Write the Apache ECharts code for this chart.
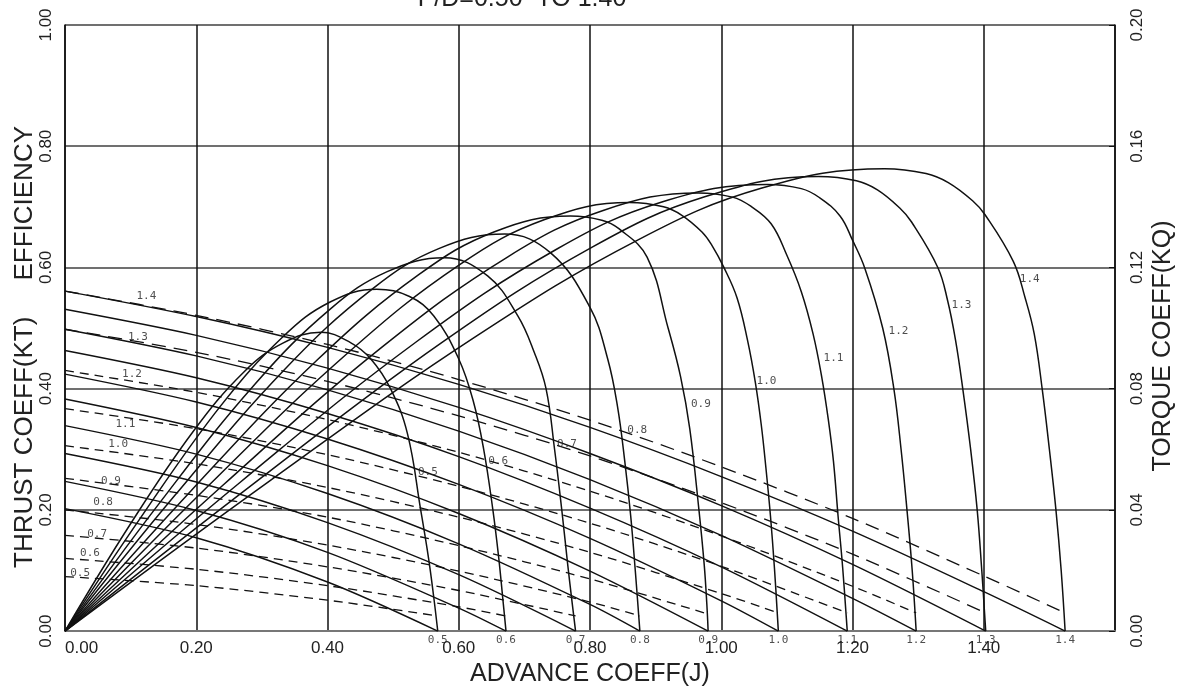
<!DOCTYPE html>
<html>
<head>
<meta charset="utf-8">
<script src="https://cdn.jsdelivr.net/npm/echarts@6/dist/echarts.min.js"></script>
<style>
html, body { margin: 0; padding: 0; background: #fff; }
#chart { width: 1186px; height: 692px; }
</style>
</head>
<body>
<div id="chart"></div>
<script>
// pitch ratios, one KT / KQ / efficiency curve each
var pitchRatios = ['0.5', '0.6', '0.7', '0.8', '0.9', '1.0', '1.1', '1.2', '1.3', '1.4'];

// thrust coeff KT vs advance coeff J  [J, KT]
var kt05 = [[0, 0.202], [0.2, 0.154], [0.4, 0.081], [0.568, 0]];
var kt06 = [[0, 0.247], [0.2, 0.199], [0.4, 0.130], [0.6, 0.038], [0.672, 0]];
var kt07 = [[0, 0.293], [0.2, 0.246], [0.4, 0.179], [0.6, 0.093], [0.778, 0]];
var kt08 = [[0, 0.339], [0.2, 0.292], [0.4, 0.227], [0.6, 0.144], [0.8, 0.044], [0.876, 0]];
var kt09 = [[0, 0.383], [0.2, 0.336], [0.4, 0.273], [0.6, 0.194], [0.8, 0.099], [0.98, 0]];
var kt10 = [[0, 0.424], [0.2, 0.378], [0.4, 0.317], [0.6, 0.242], [0.8, 0.153], [1.0, 0.050], [1.087, 0]];
var kt11 = [[0, 0.463], [0.2, 0.418], [0.4, 0.359], [0.6, 0.288], [0.8, 0.203], [1.0, 0.106], [1.192, 0]];
var kt12 = [[0, 0.498], [0.2, 0.454], [0.4, 0.398], [0.6, 0.330], [0.8, 0.250], [1.0, 0.158], [1.2, 0.054], [1.297, 0]];
var kt13 = [[0, 0.531], [0.2, 0.488], [0.4, 0.434], [0.6, 0.369], [0.8, 0.293], [1.0, 0.207], [1.2, 0.110], [1.403, 0]];
var kt14 = [[0, 0.561], [0.2, 0.519], [0.4, 0.468], [0.6, 0.407], [0.8, 0.336], [1.0, 0.255], [1.2, 0.165], [1.4, 0.065], [1.524, 0]];

// torque coeff KQ vs J (right axis)  [J, KQ]
var kq05 = [[0, 0.018], [0.2, 0.015], [0.4, 0.0102], [0.568, 0.005]];
var kq06 = [[0, 0.024], [0.2, 0.0204], [0.4, 0.015], [0.6, 0.008], [0.672, 0.005]];
var kq07 = [[0, 0.0316], [0.2, 0.0274], [0.4, 0.0212], [0.6, 0.0134], [0.778, 0.005]];
var kq08 = [[0, 0.040], [0.2, 0.0352], [0.4, 0.0284], [0.6, 0.0198], [0.8, 0.0096], [0.876, 0.005]];
var kq09 = [[0, 0.0504], [0.2, 0.0448], [0.4, 0.0376], [0.6, 0.0282], [0.8, 0.0172], [0.98, 0.0056]];
var kq10 = [[0, 0.0612], [0.2, 0.0552], [0.4, 0.0474], [0.6, 0.0376], [0.8, 0.026], [1.0, 0.0124], [1.087, 0.006]];
var kq11 = [[0, 0.0734], [0.2, 0.0668], [0.4, 0.0582], [0.6, 0.0478], [0.8, 0.0356], [1.0, 0.0214], [1.192, 0.006]];
var kq12 = [[0, 0.086], [0.2, 0.0788], [0.4, 0.0698], [0.6, 0.059], [0.8, 0.0462], [1.0, 0.0314], [1.2, 0.0148], [1.297, 0.006]];
var kq13 = [[0, 0.0996], [0.2, 0.092], [0.4, 0.0824], [0.6, 0.071], [0.8, 0.0578], [1.0, 0.0424], [1.2, 0.0254], [1.403, 0.006]];
var kq14 = [[0, 0.1122], [0.2, 0.1042], [0.4, 0.0946], [0.6, 0.083], [0.8, 0.0696], [1.0, 0.0542], [1.2, 0.0372], [1.4, 0.0182], [1.524, 0.006]];

// open water efficiency vs J  [J, eta]
var eta05 = [[0, 0], [0.0975, 0.173], [0.195, 0.329], [0.273, 0.428], [0.332, 0.475], [0.39, 0.493], [0.435, 0.476], [0.466, 0.449], [0.496, 0.40], [0.522, 0.325], [0.542, 0.20], [0.554, 0.12], [0.562, 0.055], [0.568, 0]];
var eta06 = [[0, 0], [0.119, 0.193], [0.2375, 0.372], [0.3325, 0.486], [0.404, 0.543], [0.475, 0.564], [0.525, 0.552], [0.562, 0.520], [0.60, 0.449], [0.622, 0.38], [0.638, 0.30], [0.652, 0.20], [0.661, 0.12], [0.667, 0.055], [0.672, 0]];
var eta07 = [[0, 0], [0.1445, 0.212], [0.289, 0.407], [0.405, 0.532], [0.491, 0.593], [0.578, 0.616], [0.644, 0.586], [0.690, 0.520], [0.715, 0.46], [0.733, 0.40], [0.746, 0.30], [0.757, 0.20], [0.766, 0.11], [0.773, 0.045], [0.778, 0]];
var eta08 = [[0, 0], [0.1675, 0.224], [0.335, 0.432], [0.469, 0.565], [0.5695, 0.631], [0.67, 0.655], [0.74, 0.624], [0.80, 0.534], [0.827, 0.449], [0.842, 0.37], [0.853, 0.28], [0.862, 0.19], [0.869, 0.10], [0.876, 0]];
var eta09 = [[0, 0], [0.1925, 0.232], [0.385, 0.448], [0.539, 0.588], [0.6545, 0.659], [0.77, 0.685], [0.818, 0.678], [0.844, 0.664], [0.887, 0.617], [0.919, 0.50], [0.938, 0.42], [0.952, 0.334], [0.966, 0.20], [0.974, 0.11], [0.978, 0.045], [0.98, 0]];
var eta10 = [[0, 0], [0.215, 0.236], [0.43, 0.458], [0.602, 0.605], [0.731, 0.679], [0.86, 0.707], [0.912, 0.70], [0.94, 0.686], [0.971, 0.658], [0.986, 0.636], [1.004, 0.60], [1.024, 0.55], [1.04, 0.48], [1.052, 0.41], [1.061, 0.34], [1.068, 0.27], [1.075, 0.19], [1.081, 0.105], [1.087, 0]];
var eta11 = [[0, 0], [0.241, 0.241], [0.4825, 0.468], [0.6755, 0.618], [0.82, 0.694], [0.965, 0.723], [1.017, 0.716], [1.045, 0.701], [1.076, 0.672], [1.10, 0.62], [1.122, 0.56], [1.140, 0.49], [1.153, 0.42], [1.163, 0.35], [1.171, 0.28], [1.178, 0.19], [1.185, 0.105], [1.192, 0]];
var eta12 = [[0, 0], [0.2675, 0.246], [0.535, 0.477], [0.749, 0.630], [0.9095, 0.708], [1.07, 0.737], [1.122, 0.730], [1.15, 0.715], [1.181, 0.685], [1.20, 0.645], [1.219, 0.598], [1.246, 0.50], [1.263, 0.40], [1.274, 0.30], [1.283, 0.20], [1.291, 0.10], [1.297, 0]];
var eta13 = [[0, 0], [0.287, 0.243], [0.574, 0.476], [0.804, 0.634], [0.976, 0.717], [1.148, 0.750], [1.206, 0.743], [1.238, 0.728], [1.272, 0.698], [1.290, 0.675], [1.330, 0.60], [1.345, 0.545], [1.357, 0.48], [1.368, 0.40], [1.38, 0.30], [1.39, 0.20], [1.397, 0.10], [1.403, 0]];
var eta14 = [[0, 0], [0.312, 0.248], [0.6245, 0.485], [0.874, 0.646], [1.062, 0.731], [1.249, 0.763], [1.312, 0.755], [1.346, 0.740], [1.383, 0.710], [1.402, 0.687], [1.445, 0.610], [1.463, 0.55], [1.477, 0.49], [1.489, 0.40], [1.500, 0.30], [1.510, 0.20], [1.518, 0.10], [1.524, 0]];

// where the P/D numbers are written  [J, left axis value]
var etaLabelAt = [[0.553, 0.263], [0.660, 0.281], [0.765, 0.308], [0.872, 0.331], [0.969, 0.375], [1.069, 0.413], [1.171, 0.451], [1.270, 0.495], [1.366, 0.538], [1.470, 0.581]];
var kqLabelAt = [[0.023, 0.095], [0.038, 0.128], [0.049, 0.160], [0.058, 0.212], [0.070, 0.248], [0.081, 0.308], [0.092, 0.342], [0.102, 0.424], [0.111, 0.485], [0.124, 0.553]];

var ktCurves = [kt05, kt06, kt07, kt08, kt09, kt10, kt11, kt12, kt13, kt14];
var kqCurves = [kq05, kq06, kq07, kq08, kq09, kq10, kq11, kq12, kq13, kq14];
var etaCurves = [eta05, eta06, eta07, eta08, eta09, eta10, eta11, eta12, eta13, eta14];

var ink = '#111';
var textFont = "'Liberation Sans', Arial, sans-serif";
var monoFont = "'DejaVu Sans Mono', monospace";

var series = [];
pitchRatios.forEach(function (pd, i) {
    series.push({
        name: 'eta ' + pd,
        type: 'line',
        data: etaCurves[i],
        smooth: 0.4,
        symbol: 'none',
        lineStyle: { color: ink, width: 1.5 },
        z: 4,
    });
    series.push({
        name: 'KT ' + pd,
        type: 'line',
        data: ktCurves[i],
        smooth: 0.3,
        symbol: 'none',
        lineStyle: { color: ink, width: 1.4 },
        z: 3,
    });
    series.push({
        name: 'KQ ' + pd,
        type: 'line',
        yAxisIndex: 1,
        data: kqCurves[i],
        smooth: 0.3,
        symbol: 'none',
        lineStyle: { color: ink, width: 1.3, type: i >= 8 ? [14, 8] : [9, 6] },
        z: 3,
    });
});

function labelSeries(name, points, position) {
    return {
        name: name,
        type: 'scatter',
        data: points.map(function (p, i) { return { value: p, name: pitchRatios[i] }; }),
        symbolSize: 1,
        itemStyle: { color: 'rgba(0,0,0,0)' },
        label: {
            show: true,
            position: position,
            distance: 3,
            formatter: '{b}',
            fontFamily: monoFont,
            fontSize: 11,
            color: '#222',
        },
        z: 6,
    };
}

series.push(labelSeries('eta labels', etaLabelAt, 'inside'));
series.push(labelSeries('KQ labels', kqLabelAt, 'inside'));
series.push(labelSeries('KT ends', ktCurves.map(function (c) { return c[c.length - 1]; }), 'bottom'));

var chart = echarts.init(document.getElementById('chart'));
chart.setOption({
    animation: false,
    backgroundColor: '#fff',
    grid: { left: 65, right: 71, top: 25, bottom: 59 },
    graphic: [
        { type: 'text', x: 522, y: 12, style: { text: 'P/D=0.50  TO 1.40', font: '25px ' + textFont, fill: '#222', textAlign: 'center', textVerticalAlign: 'bottom' } },
        { type: 'text', x: 25, y: 347, rotation: Math.PI / 2, style: { text: 'THRUST COEFF(KT)     EFFICIENCY', font: '26px ' + textFont, fill: '#222', textAlign: 'center', textVerticalAlign: 'middle' } },
        { type: 'text', x: 1163, y: 346, rotation: Math.PI / 2, style: { text: 'TORQUE COEFF(KQ)', font: '25px ' + textFont, fill: '#222', textAlign: 'center', textVerticalAlign: 'middle' } },
    ],
    xAxis: {
        type: 'value',
        min: 0,
        max: 1.6,
        interval: 0.2,
        name: 'ADVANCE COEFF(J)',
        nameLocation: 'middle',
        nameGap: 30,
        nameTextStyle: { fontFamily: textFont, fontSize: 25, color: '#222' },
        axisLine: { lineStyle: { color: '#777', width: 2 } },
        axisTick: { show: false },
        axisLabel: {
            margin: 9,
            fontFamily: textFont,
            fontSize: 17,
            color: '#222',
            alignMinLabel: 'left',
            formatter: function (v) { return v > 1.5 ? '' : v.toFixed(2); },
        },
        splitLine: { show: true, lineStyle: { color: ink, width: 1.5 } },
    },
    yAxis: [{
        type: 'value',
        min: 0,
        max: 1,
        interval: 0.2,
        axisLine: { show: true, lineStyle: { color: ink, width: 1.5 } },
        axisTick: { show: false },
        axisLabel: {
            rotate: 90,
            margin: 10,
            fontFamily: textFont,
            fontSize: 17,
            color: '#222',
            formatter: function (v) { return v.toFixed(2); },
        },
        splitLine: { show: true, lineStyle: { color: '#707070', width: 1.8 } },
    }, {
        type: 'value',
        position: 'right',
        min: 0,
        max: 0.2,
        interval: 0.04,
        axisLine: { show: true, lineStyle: { color: ink, width: 1.5 } },
        axisTick: { show: true, inside: true, length: 6, lineStyle: { color: ink } },
        axisLabel: {
            rotate: 90,
            margin: 14,
            fontFamily: textFont,
            fontSize: 17,
            color: '#222',
            formatter: function (v) { return v.toFixed(2); },
        },
        splitLine: { show: false },
    }],
    series: series,
});
</script>
</body>
</html>
